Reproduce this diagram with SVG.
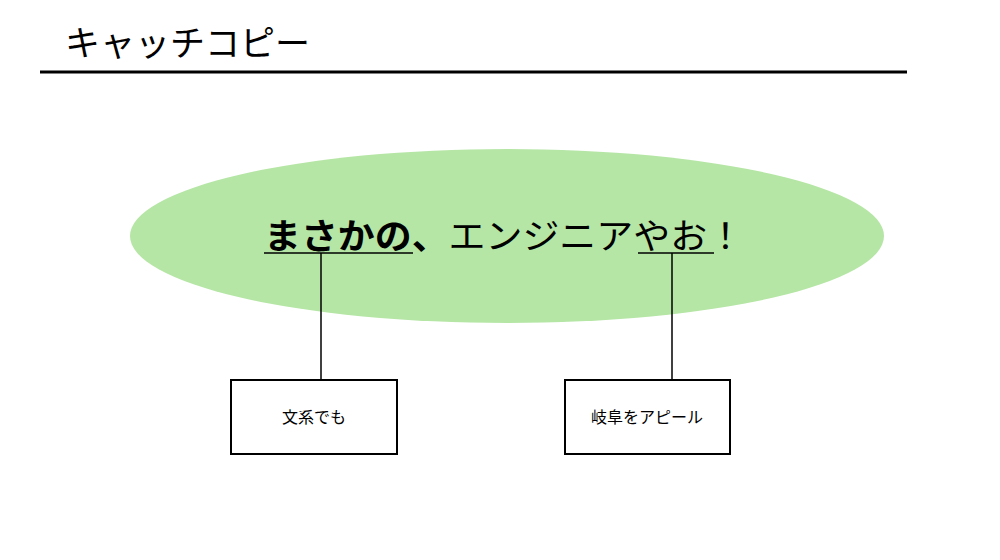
<svg xmlns="http://www.w3.org/2000/svg" width="1000" height="560" viewBox="0 0 1000 560">
<style>
text{font-family:"Noto Sans CJK JP","Noto Sans",sans-serif;fill:#000}
.box{fill:#fff;stroke:#000;stroke-width:2}
.ln{stroke:#000;stroke-width:1.5;fill:none}
</style>
<rect width="1000" height="560" fill="#fff"/>
<g id="title"><text x="65" y="56" font-size="35">キャッチコピー</text>
<line x1="40" y1="72" x2="907" y2="72" stroke="#000" stroke-width="3"/></g>
<g id="catch">
<ellipse cx="507" cy="236" rx="377" ry="87" fill="#b5e6a5"/>
<text x="264" y="249" font-size="35" textLength="480" lengthAdjust="spacingAndGlyphs"><tspan font-weight="bold">まさかの、</tspan>エンジニアやお！</text>
</g>
<g id="connectors">
<line class="ln" x1="264" y1="253" x2="413" y2="253"/>
<line class="ln" x1="638" y1="253" x2="714" y2="253"/>
<line class="ln" x1="321" y1="253" x2="321" y2="380"/>
<line class="ln" x1="672" y1="253" x2="672" y2="380"/>
</g>
<g id="n1"><rect class="box" x="231" y="380" width="166" height="74"/>
<text x="314" y="423" font-size="16" text-anchor="middle">文系でも</text></g>
<g id="n2"><rect class="box" x="565" y="380" width="165" height="74"/>
<text x="647" y="423" font-size="16" text-anchor="middle">岐阜をアピール</text></g>
</svg>
